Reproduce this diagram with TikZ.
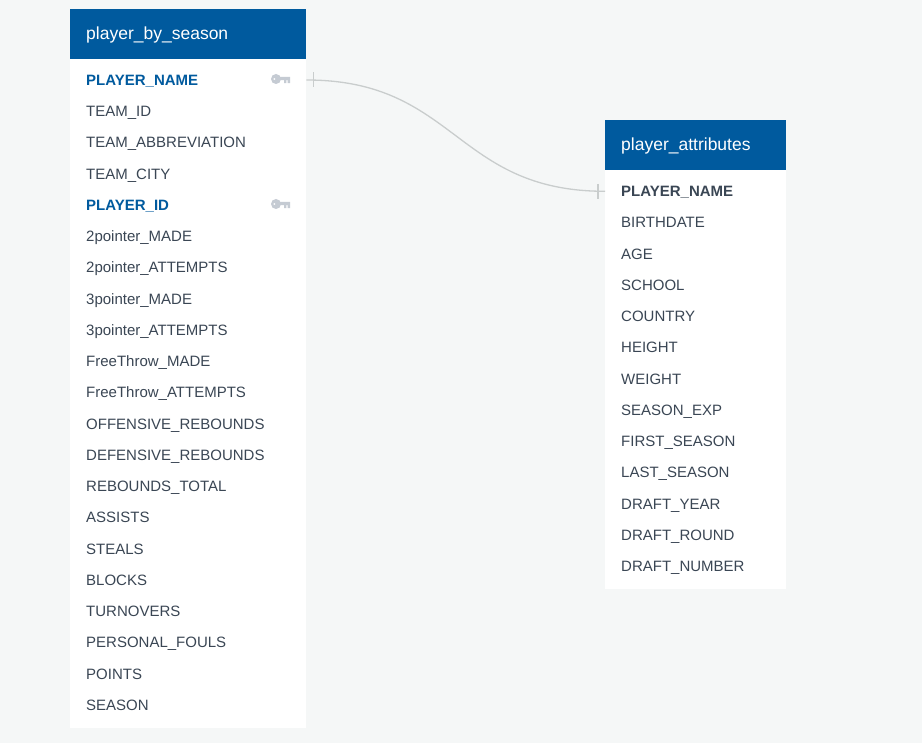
\documentclass[tikz,border=0pt]{standalone}
\usepackage{fontspec}
\setmainfont{Liberation Sans}
\usepackage[rgb]{xcolor}

\definecolor{pagebg}{HTML}{F5F7F7}
\definecolor{headblue}{HTML}{005A9E}
\definecolor{rowtext}{HTML}{3A4654}
\definecolor{keygrey}{HTML}{C5CBD3}
\definecolor{linkgrey}{HTML}{C9CDCD}

\tikzset{
	tablebody/.style={draw=none, fill=white},
	tablehead/.style={fill=headblue, text=white, anchor=west, inner xsep=16pt, inner ysep=0pt,
		minimum height=50pt, align=left, text height=16pt, text depth=4pt,
		font=\fontsize{17.5}{20}\selectfont},
	fieldrow/.style={anchor=west, inner xsep=16pt, inner ysep=0pt, align=left, text=rowtext,
		text height=13.6pt, text depth=3pt, font=\fontsize{15}{18}\selectfont},
	keyfield/.style={font=\fontsize{15}{18}\selectfont\bfseries, text=headblue},
	pkfield/.style={font=\fontsize{15}{18}\selectfont\bfseries},
	link/.style={draw=linkgrey, line width=1.3pt},
	pics/keyicon/.style={code={
		\fill[keygrey, even odd rule] (5,0) circle (5) (3.4,0) circle (1.3);
		\fill[keygrey] (8,-2.2) rectangle (19,1.2) (13,1.2) rectangle (15.4,4.2) (16.6,1.2) rectangle (19,4.2);
	}},
}

\begin{document}
\begin{tikzpicture}[x=1pt, y=-1pt]

	\useasboundingbox[fill=pagebg] (0,0) rectangle (922,743);

	% left table
	\fill[tablebody] (70,9) rectangle (306,728);
	\node[tablehead, text width=204pt] (seasonhead) at (70,34) {player\_by\_season};
	\foreach \fname [count=\i from 0] in {PLAYER\_NAME, TEAM\_ID, TEAM\_ABBREVIATION, TEAM\_CITY, PLAYER\_ID,
		2pointer\_MADE, 2pointer\_ATTEMPTS, 3pointer\_MADE, 3pointer\_ATTEMPTS, FreeThrow\_MADE,
		FreeThrow\_ATTEMPTS, OFFENSIVE\_REBOUNDS, DEFENSIVE\_REBOUNDS, REBOUNDS\_TOTAL, ASSISTS,
		STEALS, BLOCKS, TURNOVERS, PERSONAL\_FOULS, POINTS, SEASON} {
		\ifnum\i=0 \def\fstyle{keyfield}\else\ifnum\i=4 \def\fstyle{keyfield}\else\def\fstyle{fieldrow}\fi\fi
		\node[fieldrow, \fstyle, text width=204pt] (season\i) at (70,{80+31.25*\i}) {\fname};
	}
	\pic at (271,79) {keyicon};
	\pic at (271,204) {keyicon};

	% right table
	\fill[tablebody] (605,120) rectangle (786,589);
	\node[tablehead, text width=149pt] (attrhead) at (605,145) {player\_attributes};
	\foreach \fname [count=\i from 0] in {PLAYER\_NAME, BIRTHDATE, AGE, SCHOOL, COUNTRY, HEIGHT, WEIGHT,
		SEASON\_EXP, FIRST\_SEASON, LAST\_SEASON, DRAFT\_YEAR, DRAFT\_ROUND, DRAFT\_NUMBER} {
		\ifnum\i=0 \def\fstyle{pkfield}\else\def\fstyle{fieldrow}\fi
		\node[fieldrow, \fstyle, text width=149pt] (attr\i) at (605,{191.3+31.25*\i}) {\fname};
	}

	% link between the two name fields
	\draw[link] (season0.east) .. controls +(150,0) and +(-150,0) .. (attr0.west);
	\draw[link] (season0.east) ++(7,-7.5) -- ++(0,15);
	\draw[link] (attr0.west) ++(-7,-7.5) -- ++(0,15);

\end{tikzpicture}
\end{document}
